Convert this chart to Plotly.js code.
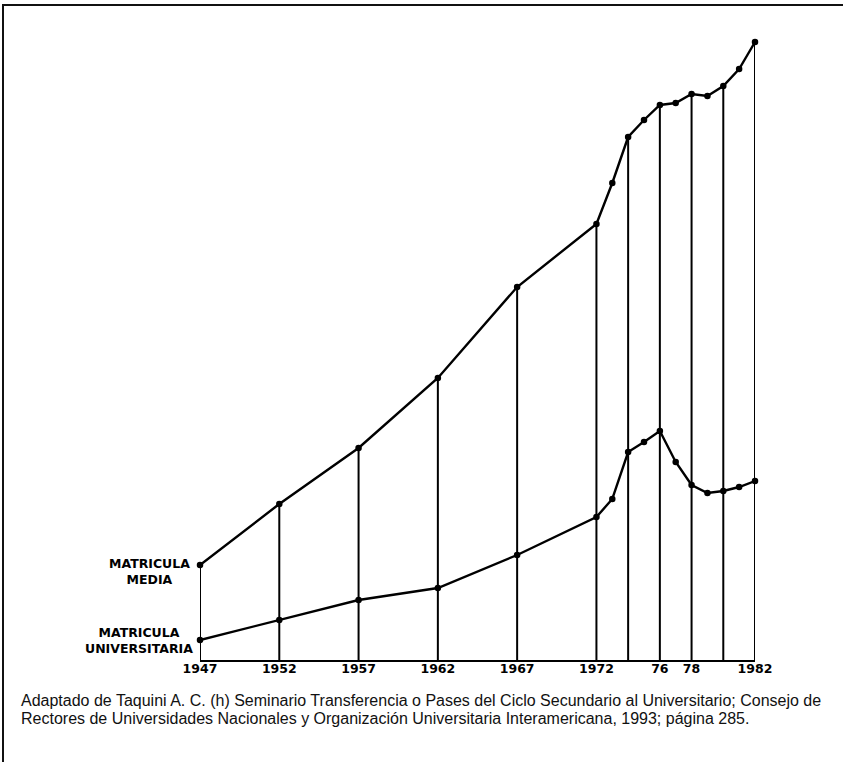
<!DOCTYPE html>
<html>
<head>
<meta charset="utf-8">
<script src="https://cdn.plot.ly/plotly-3.0.1.min.js"></script>
<style>
  html, body { margin: 0; padding: 0; background: #fff; }
  #wrap { position: relative; width: 843px; height: 762px; }
  #chart { position: absolute; left: 0; top: 0; width: 843px; height: 762px; }
  #frame { position: absolute; left: 2px; top: 4px; width: 841px; height: 758px;
           border-top: 2.5px solid #111; border-left: 2px solid #111; box-sizing: border-box; pointer-events: none; }
</style>
</head>
<body>
<div id="wrap">
  <div id="chart"></div>
  <div id="frame"></div>
</div>
<script>
// Years of observation
const years = [1947, 1952, 1957, 1962, 1967, 1972, 1973, 1974, 1975, 1976, 1977, 1978, 1979, 1980, 1981, 1982];
// Matrícula media (relative index)
const media = [95, 156, 212, 282, 373, 436, 477, 523, 540, 555, 557, 566, 564, 574, 591, 618];
// Matrícula universitaria (relative index)
const universitaria = [20, 40, 60, 72, 105, 143, 161, 208, 218, 229, 198, 175, 167, 169, 173, 179];
// Years with vertical guide lines
const guideYears = [1947, 1952, 1957, 1962, 1967, 1972, 1974, 1976, 1978, 1980, 1982];
// Tick labels
const tickVals = [1947, 1952, 1957, 1962, 1967, 1972, 1976, 1978, 1982];
const tickText = ['1947', '1952', '1957', '1962', '1967', '1972', '76', '78', '1982'];
const labelMedia = 'MATRICULA<br>MEDIA';
const labelUniv = 'MATRICULA<br>UNIVERSITARIA';
const captionLines = [
  'Adaptado de Taquini A. C. (h) Seminario Transferencia o Pases del Ciclo Secundario al Universitario; Consejo de',
  'Rectores de Universidades Nacionales y Organización Universitaria Interamericana, 1993; página 285.'
];

const gx = [], gy = [];
guideYears.forEach(y => {
  const i = years.indexOf(y);
  gx.push(y, y, null);
  gy.push(0, media[i], null);
});

const traces = [
  { x: gx, y: gy, mode: 'lines', line: { color: '#000', width: 2 }, hoverinfo: 'skip', cliponaxis: false },
  { x: years, y: media, mode: 'lines+markers', line: { color: '#000', width: 2.4 },
    marker: { color: '#000', size: 6.5 }, cliponaxis: false },
  { x: years, y: universitaria, mode: 'lines+markers', line: { color: '#000', width: 2.4 },
    marker: { color: '#000', size: 6.5 }, cliponaxis: false }
];

const FONT = '"Liberation Sans", Arial, Helvetica, sans-serif';
const BOLDFONT = '"DejaVu Sans", "Liberation Sans", Arial, sans-serif';

const captionAnn = captionLines.map((t, k) => ({
  x: (19 - 200) / 555, y: (660 - (700 + 18 * k)) / 630, xref: 'paper', yref: 'paper', text: t,
  showarrow: false, xanchor: 'left', yanchor: 'middle', align: 'left',
  font: { family: FONT, size: 16, color: '#111' }
}));

const layout = {
  width: 843, height: 762,
  margin: { l: 200, r: 88, t: 30, b: 102 },
  paper_bgcolor: '#fff', plot_bgcolor: '#fff',
  showlegend: false,
  xaxis: {
    range: [1947, 1982], showgrid: false, zeroline: false,
    showline: true, linecolor: '#000', linewidth: 2,
    ticks: '', tickvals: tickVals, ticktext: tickText,
    ticklabelstandoff: -4,
    tickfont: { family: BOLDFONT, size: 12.5, color: '#000', weight: 'bold' },
    fixedrange: true
  },
  yaxis: {
    range: [0, 630], visible: false, showgrid: false, zeroline: false, fixedrange: true
  },
  annotations: [
    { x: years[0], y: media[0], xref: 'x', yref: 'y', text: '<b>' + labelMedia + '</b>',
      showarrow: false, xanchor: 'right', yanchor: 'middle', align: 'center', xshift: -8, yshift: -6,
      font: { family: BOLDFONT, size: 12.5, color: '#000' } },
    { x: years[0], y: universitaria[0], xref: 'x', yref: 'y', text: '<b>' + labelUniv + '</b>',
      showarrow: false, xanchor: 'right', yanchor: 'middle', align: 'center', xshift: -5, yshift: 0,
      font: { family: BOLDFONT, size: 12.5, color: '#000' } }
  ].concat(captionAnn)
};

Plotly.newPlot('chart', traces, layout, { displayModeBar: false, staticPlot: true });
</script>
</body>
</html>
